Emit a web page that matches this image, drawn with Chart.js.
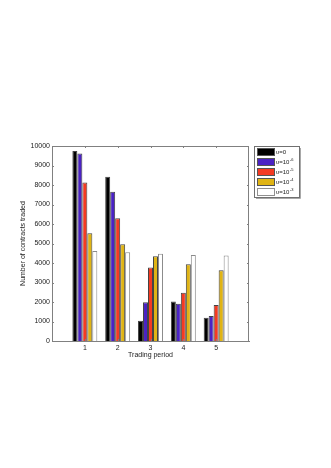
<!DOCTYPE html>
<html><head><meta charset="utf-8">
<script src="https://cdn.jsdelivr.net/npm/chart.js@4/dist/chart.umd.min.js"></script>
<style>html,body{margin:0;padding:0;background:#fff;}canvas{display:block;}</style>
</head><body>
<canvas id="c" width="331" height="468"></canvas>
<script>
const categories = ['', '1', '2', '3', '4', '5', ''];
const seriesNames = ['υ=0', 'υ=10', 'υ=10', 'υ=10', 'υ=10'];
const seriesExp = ['', '-6', '-5', '-4', '-3'];
const seriesColors = ['#000000', '#4a22c4', '#f53a22', '#e0b414', '#ffffff'];
const s0 = [null, 9750, 8420, 1040, 2030, 1190, null];
const s1 = [null, 9610, 7650, 1990, 1910, 1280, null];
const s2 = [null, 8130, 6290, 3770, 2470, 1840, null];
const s3 = [null, 5520, 4960, 4340, 3930, 3630, null];
const s4 = [null, 4620, 4550, 4480, 4410, 4380, null];
const yTicks = [0,1000,2000,3000,4000,5000,6000,7000,8000,9000,10000];
const seriesData = [s0, s1, s2, s3, s4];

const FONT = 'Liberation Sans, Arial, sans-serif';
const AXC = '#808080';

const boxPlugin = {
  id: 'box',
  afterDraw(chart) {
    const ctx = chart.ctx, a = chart.chartArea;
    const x = chart.scales.x, y = chart.scales.y;
    ctx.save();
    ctx.strokeStyle = AXC; ctx.lineWidth = 1;
    ctx.beginPath();
    ctx.moveTo(a.left, a.top + 0.5); ctx.lineTo(a.right, a.top + 0.5);
    ctx.moveTo(a.right - 0.5, a.top); ctx.lineTo(a.right - 0.5, a.bottom);
    yTicks.forEach(v => {
      const py = Math.round(y.getPixelForValue(v)) + 0.5;
      ctx.moveTo(a.left, py); ctx.lineTo(a.left + 2, py);
      ctx.moveTo(a.right, py); ctx.lineTo(a.right - 2, py);
    });
    for (let i = 1; i <= 5; i++) {
      const px = Math.round(x.getPixelForValue(i)) + 0.5;
      ctx.moveTo(px, a.bottom); ctx.lineTo(px, a.bottom - 2);
      ctx.moveTo(px, a.top); ctx.lineTo(px, a.top + 2);
    }
    ctx.stroke();
    // legend
    const lx = 254, ly = 146, lw = 45, lh = 51;
    ctx.fillStyle = '#fff';
    ctx.fillRect(lx, ly, lw, lh);
    ctx.strokeStyle = '#707070';
    ctx.strokeRect(lx + 0.5, ly + 0.5, lw, lh);
    ctx.strokeStyle = '#a8a8a8';
    ctx.beginPath(); ctx.moveTo(lx + lw + 1.5, ly + 2); ctx.lineTo(lx + lw + 1.5, ly + lh + 1.5); ctx.lineTo(lx + 2, ly + lh + 1.5); ctx.stroke();
    for (let i = 0; i < 5; i++) {
      const ry = ly + 2 + i * 10;
      ctx.fillStyle = seriesColors[i];
      ctx.fillRect(lx + 3, ry, 17, 7);
      ctx.strokeStyle = i === 4 ? '#909090' : '#555';
      ctx.strokeRect(lx + 3.5, ry + 0.5, 17, 7);
      ctx.fillStyle = '#222';
      ctx.font = '6px ' + FONT;
      ctx.textBaseline = 'middle';
      ctx.textAlign = 'left';
      ctx.fillText(seriesNames[i], lx + 22, ry + 4);
      if (seriesExp[i]) {
        const w = ctx.measureText(seriesNames[i]).width;
        ctx.font = '4px ' + FONT;
        ctx.fillText(seriesExp[i], lx + 22 + w + 0.5, ry + 1.5);
      }
    }
    ctx.restore();
  }
};

new Chart(document.getElementById('c'), {
  type: 'bar',
  data: {
    labels: categories,
    datasets: seriesData.map((d, i) => ({
      label: seriesNames[i] + seriesExp[i],
      data: d,
      backgroundColor: seriesColors[i],
      borderColor: i === 4 ? '#8a8a8a' : '#444444',
      borderWidth: 1,
      categoryPercentage: 0.76,
      barPercentage: 1.0
    }))
  },
  options: {
    responsive: false,
    animation: false,
    layout: { padding: { left: 19, right: 82, top: 146, bottom: 109 } },
    plugins: { legend: { display: false }, tooltip: { enabled: false } },
    scales: {
      x: {
        offset: false,
        grid: { display: false, drawTicks: false },
        border: { color: AXC },
        ticks: { color: '#222', font: { family: FONT, size: 7 }, padding: 3, maxRotation: 0, autoSkip: false },
        title: { display: true, text: 'Trading period', color: '#222', font: { family: FONT, size: 7 }, padding: { top: 0, bottom: 0 } },
        afterFit: s => { s.height = 18; }
      },
      y: {
        min: 0, max: 10000,
        grid: { display: false, drawTicks: false },
        border: { color: AXC },
        ticks: { stepSize: 1000, color: '#222', font: { family: FONT, size: 7 }, padding: 2,
                 callback: v => String(v) },
        title: { display: true, text: 'Number of contracts traded', color: '#222', font: { family: FONT, size: 7 }, padding: { top: 0, bottom: 0 } },
        afterFit: s => { s.width = 33; }
      }
    }
  },
  plugins: [boxPlugin]
});
</script>
</body></html>
